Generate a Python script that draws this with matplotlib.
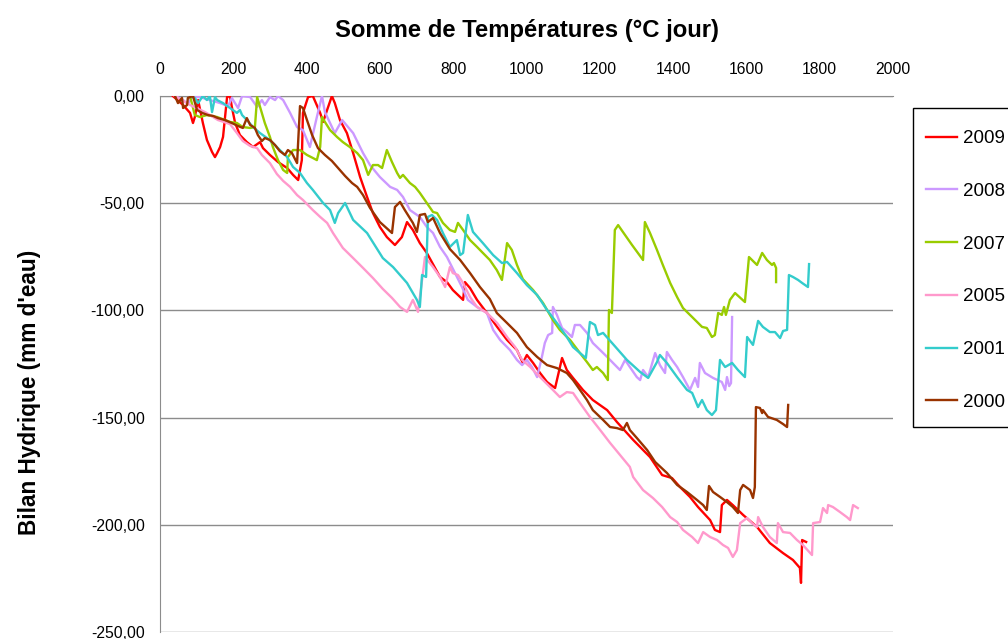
import matplotlib
matplotlib.use("Agg")
import matplotlib.pyplot as plt
from matplotlib.ticker import FuncFormatter
from matplotlib.patches import Rectangle

plt.rcParams['font.family'] = ['Liberation Sans', 'DejaVu Sans']

title = "Somme de Températures (°C jour)"
ylabel = "Bilan Hydrique (mm d'eau)"
years = ["2009", "2008", "2007", "2005", "2001", "2000"]
colors = ["#FF0000", "#CC99FF", "#99CC00", "#FF99CC", "#33CCCC", "#993300"]

s2009 = [(35,0),(63,-4.2),(82,-7.9),(90,-12.6),(95,-9.8),(104,-1.9),(117,-12.6),(128,-20.5),
         (142,-26.1),(150,-28.5),(156,-26.6),(164,-23.8),(172,-19.1),(183,-0.5),(191,0),(196,-5.1),
         (205,-12.6),(218,-18.2),(237,-21.5),(254,-23.8),(273,-21.5),(281,-24.3),(300,-27.5),
         (322,-30.8),(347,-33.6),(363,-36.8),(377,-39.2),(387,-29.9),(390,-7.9),(404,-0.5),(417,0),
         (437,-7.9),(445,-12.1),(456,-6.5),(469,0),(477,-3.3),(491,-11.2),(510,-17.3),(527,-26.6),
         (546,-37.8),(565,-47.1),(581,-54.6),(600,-61.1),(619,-65.8),(641,-69.5),(660,-65.8),
         (674,-58.8),(690,-62.5),(709,-68.6),(728,-73.2),(764,-84.4),(783,-86.8),(799,-90.5),
         (827,-95.1),(832,-86.8),(846,-89.6),(865,-95.1),(892,-101.2),(920,-107.7),(947,-113.8),
         (974,-118.5),(990,-124.5),(1001,-120.8),(1018,-124.5),(1037,-129.2),(1056,-133.4),
         (1078,-136.2),(1097,-122.2),(1110,-127.8),(1127,-131.5),(1154,-137.1),(1181,-141.8),
         (1220,-146.5),(1247,-152.1),(1291,-160.4),(1337,-168.4),(1370,-176.8),(1397,-178.2),
         (1419,-182.4),(1446,-187.0),(1468,-191.7),(1501,-197.8),(1514,-202.4),(1528,-203.4),
         (1533,-190.8),(1547,-188.4),(1563,-190.8),(1591,-195.4),(1629,-201.0),(1664,-208.5),
         (1700,-213.2),(1727,-216.4),(1746,-220.1),(1749,-227.1),(1752,-207.1),(1763,-208.0)]

s2008 = [(41,0),(63,-1.9),(76,-3.7),(87,-0.5),(109,-0.5),(136,-1.9),(164,-3.3),(186,-4.7),
         (196,-0.9),(213,-5.6),(224,0),(246,-0.5),(265,-5.1),(278,-1.9),(286,-4.2),(300,-0.5),
         (314,-1.9),(322,0),(336,-1.9),(355,-7.9),(374,-14.5),(390,-15.9),(401,-20.5),(409,-23.8),
         (428,-9.8),(442,0),(450,-7.5),(464,-12.6),(477,-17.3),(497,-11.2),(527,-17.3),(554,-26.6),
         (573,-32.2),(600,-37.8),(628,-42.4),(647,-43.8),(663,-47.1),(682,-53.2),(709,-56.4),
         (728,-61.1),(745,-63.9),(764,-70.4),(783,-75.1),(805,-82.6),(824,-89.1),(840,-95.1),
         (865,-98.4),(892,-101.2),(909,-109.1),(928,-113.8),(955,-118.5),(974,-123.1),(988,-125.5),
         (1001,-123.1),(1015,-126.4),(1029,-131.1),(1042,-121.7),(1050,-115.2),(1059,-111.5),
         (1070,-110.5),(1072,-98.4),(1083,-102.1),(1097,-108.2),(1110,-110.1),(1124,-112.4),
         (1132,-106.8),(1146,-106.8),(1165,-110.5),(1181,-115.2),(1201,-118.5),(1220,-121.7),
         (1236,-124.5),(1255,-127.8),(1269,-123.1),(1282,-126.4),(1301,-131.1),(1310,-132.5),
         (1318,-127.8),(1332,-131.1),(1351,-119.9),(1364,-125.5),(1378,-129.2),(1383,-119.4),
         (1397,-123.1),(1411,-126.4),(1427,-131.1),(1446,-137.1),(1460,-131.5),(1468,-135.7),
         (1473,-124.5),(1487,-129.2),(1509,-131.5),(1533,-133.4),(1542,-137.1),(1547,-131.1),
         (1553,-135.3),(1558,-133.9),(1561,-103.1)]

s2007 = [(82,0),(95,-8.9),(109,-9.8),(128,-8.9),(156,-9.8),(191,-12.1),(210,-12.6),(226,-14.5),
         (246,-14.9),(259,-14.5),(265,-0.5),(273,-5.1),(286,-12.6),(300,-19.1),(308,-23.8),
         (322,-29.9),(336,-34.5),(347,-35.9),(349,-28.5),(363,-25.2),(382,-25.2),(401,-27.5),
         (417,-28.9),(428,-29.9),(437,-23.8),(442,-9.8),(450,-12.1),(464,-15.9),(483,-19.1),
         (499,-21.5),(518,-23.8),(538,-26.6),(554,-29.9),(568,-36.8),(581,-32.2),(595,-32.2),
         (606,-33.6),(619,-25.2),(633,-30.8),(647,-35.9),(655,-38.2),(663,-36.8),(682,-40.6),
         (696,-42.4),(709,-45.2),(728,-49.9),(745,-54.1),(756,-54.6),(772,-59.2),(791,-62.5),
         (805,-63.4),(813,-59.2),(827,-62.5),(846,-67.2),(865,-70.4),(881,-73.2),(900,-76.5),
         (919,-81.2),(933,-85.8),(947,-68.6),(960,-71.8),(974,-78.8),(990,-85.4),(1018,-90.5),
         (1045,-96.5),(1072,-104.5),(1091,-109.1),(1119,-113.8),(1146,-119.9),(1165,-124.1),
         (1181,-127.8),(1192,-126.4),(1209,-129.2),(1222,-132.5),(1225,-99.8),(1233,-101.2),
         (1241,-62.5),(1250,-60.2),(1263,-63.4),(1288,-69.5),(1318,-76.5),(1323,-58.8),(1337,-63.9),
         (1356,-71.8),(1372,-78.8),(1392,-87.2),(1411,-93.8),(1427,-98.9),(1452,-103.1),
         (1479,-107.7),(1492,-108.2),(1506,-112.4),(1514,-111.5),(1523,-101.2),(1533,-102.1),
         (1539,-98.4),(1544,-102.1),(1555,-95.1),(1569,-91.9),(1596,-96.1),(1607,-75.1),
         (1629,-78.8),(1643,-73.2),(1656,-76.5),(1670,-78.8),(1675,-77.9),(1681,-80.2),(1681,-86.8)]

s2005 = [(41,0),(82,-4.2),(123,-7.5),(158,-11.2),(191,-13.1),(210,-17.3),(226,-21.0),(246,-23.3),
         (265,-24.3),(278,-27.5),(300,-31.3),(319,-36.4),(336,-39.6),(355,-42.4),(374,-46.2),
         (390,-48.5),(417,-53.2),(437,-56.4),(456,-59.2),(472,-63.9),(499,-70.9),(527,-75.6),
         (554,-80.2),(581,-84.9),(608,-90.0),(633,-94.2),(655,-98.4),(674,-100.7),(690,-95.1),
         (704,-100.7),(723,-75.1),(745,-79.8),(764,-84.4),(778,-89.1),(791,-79.8),(799,-82.6),
         (813,-83.5),(827,-87.2),(846,-93.8),(865,-98.4),(892,-101.2),(920,-105.9),(947,-112.4),
         (969,-117.1),(988,-123.1),(1010,-126.4),(1037,-131.1),(1064,-135.7),(1091,-140.4),
         (1110,-138.1),(1127,-138.5),(1146,-143.2),(1173,-149.7),(1201,-155.8),(1228,-161.8),
         (1255,-167.4),(1282,-173.0),(1291,-177.7),(1318,-183.8),(1345,-187.5),(1370,-191.7),
         (1392,-196.4),(1411,-198.7),(1427,-202.4),(1452,-205.7),(1468,-208.5),(1482,-203.4),
         (1501,-205.7),(1520,-207.1),(1536,-209.4),(1550,-210.8),(1563,-215.0),(1574,-211.8),
         (1583,-199.2),(1602,-196.8),(1615,-199.2),(1629,-201.0),(1632,-196.4),(1645,-201.0),
         (1664,-205.7),(1683,-208.5),(1686,-199.2),(1700,-203.4),(1719,-203.8),(1738,-207.1),
         (1754,-209.4),(1779,-214.1),(1782,-199.2),(1801,-198.7),(1809,-192.2),(1820,-194.5),
         (1823,-190.8),(1836,-191.7),(1855,-194.0),(1874,-196.4),(1883,-197.8),(1891,-190.8),
         (1904,-192.2)]

s2001 = [(82,0),(95,-0.9),(104,-3.3),(117,0),(128,-1.9),(136,0),(142,-7.5),(150,-0.5),(156,-1.9),
         (172,-3.3),(191,-5.6),(210,-7.9),(218,-6.5),(224,-8.9),(237,-11.2),(254,-14.5),(273,-17.3),
         (292,-19.6),(308,-21.9),(327,-25.2),(347,-28.5),(363,-33.1),(382,-35.9),(401,-40.6),
         (417,-43.8),(445,-49.9),(464,-53.2),(477,-59.2),(486,-54.6),(505,-49.9),(527,-57.8),
         (565,-63.9),(608,-75.6),(636,-79.8),(674,-87.2),(701,-95.1),(709,-98.4),(715,-83.5),
         (726,-84.4),(731,-56.4),(742,-55.5),(756,-57.8),(772,-63.9),(791,-70.4),(810,-67.2),
         (819,-74.2),(827,-73.2),(840,-55.5),(854,-63.4),(881,-68.6),(909,-74.2),(933,-77.9),
         (947,-77.4),(974,-82.6),(1001,-88.2),(1029,-92.8),(1056,-99.8),(1083,-105.9),(1110,-112.4),
         (1127,-117.1),(1146,-119.9),(1162,-122.2),(1173,-105.4),(1187,-106.8),(1195,-111.5),
         (1209,-110.5),(1236,-115.7),(1274,-123.1),(1310,-128.7),(1332,-131.5),(1356,-124.1),
         (1364,-120.8),(1383,-124.5),(1411,-131.1),(1438,-137.1),(1452,-138.5),(1468,-145.1),
         (1479,-141.8),(1492,-146.5),(1506,-148.8),(1517,-146.5),(1528,-123.1),(1542,-126.4),
         (1561,-124.5),(1577,-127.8),(1596,-131.1),(1602,-112.4),(1618,-116.1),(1632,-104.9),
         (1645,-107.7),(1664,-110.1),(1678,-110.1),(1692,-112.9),(1700,-109.6),(1711,-109.1),
         (1716,-83.5),(1727,-84.4),(1741,-85.8),(1752,-87.2),(1768,-89.1),(1771,-78.4)]

s2000 = [(41,0),(49,-3.3),(60,-0.9),(63,-5.6),(74,-4.2),(76,-0.9),(90,0),(101,-6.5),(115,-7.9),
         (131,-8.9),(145,-9.3),(158,-10.3),(177,-11.2),(196,-12.6),(213,-14.0),(226,-14.9),
         (237,-10.3),(246,-13.5),(259,-14.9),(267,-18.2),(278,-21.0),(286,-19.6),(300,-20.5),
         (314,-22.9),(327,-25.7),(341,-27.5),(349,-25.2),(360,-26.6),(374,-31.3),(382,-4.7),
         (390,-5.6),(401,-11.2),(415,-18.2),(431,-24.3),(450,-27.5),(469,-30.3),(486,-33.6),
         (505,-37.3),(524,-40.6),(538,-42.4),(554,-46.2),(573,-52.2),(600,-58.8),(633,-63.9),
         (641,-51.8),(655,-49.4),(668,-53.2),(690,-59.2),(701,-63.4),(709,-55.5),(723,-55.0),
         (731,-58.8),(745,-56.9),(764,-63.9),(791,-71.4),(819,-76.5),(846,-82.6),(873,-89.1),
         (900,-94.7),(919,-101.2),(947,-105.9),(974,-110.5),(1001,-117.1),(1029,-121.7),
         (1056,-125.5),(1083,-126.9),(1110,-129.2),(1127,-132.5),(1146,-137.1),(1165,-141.8),
         (1181,-146.5),(1209,-151.1),(1228,-154.4),(1247,-154.9),(1263,-155.8),(1274,-152.5),
         (1282,-155.8),(1301,-159.5),(1329,-165.1),(1351,-170.7),(1383,-175.8),(1411,-181.4),
         (1438,-184.7),(1465,-188.4),(1482,-190.8),(1492,-193.1),(1498,-181.9),(1509,-184.7),
         (1528,-187.0),(1547,-189.4),(1563,-191.7),(1577,-194.5),(1583,-183.8),(1591,-181.4),
         (1610,-183.8),(1618,-187.5),(1623,-182.4),(1626,-145.1),(1637,-145.5),(1643,-147.9),
         (1645,-146.5),(1659,-149.7),(1683,-151.1),(1700,-153.0),(1711,-154.4),(1714,-144.1)]

series = [s2009, s2008, s2007, s2005, s2001, s2000]

x_ticks = list(range(0, 2001, 200))
y_ticks = list(range(-250, 1, 50))

W, H = 1008, 639
fig = plt.figure(figsize=(W / 100, H / 100), dpi=100)
ax = fig.add_axes([160/W, 1-632/H, 733/W, 536/H])

grid_c = "#8C8C8C"
for i, (data, c, lab) in enumerate(zip(series, colors, years)):
    xs = [p[0] for p in data]
    ys = [p[1] for p in data]
    ax.plot(xs, ys, color=c, lw=1.7, label=lab, zorder=3 + i, solid_joinstyle='round')

ax.set_xlim(0, 2000)
ax.set_ylim(-250, 0)
ax.set_xticks(x_ticks)
ax.set_yticks(y_ticks)
ax.yaxis.set_major_formatter(FuncFormatter(lambda v, p: f"{v:.2f}".replace(".", ",").replace("-0,00", "0,00")))
ax.xaxis.tick_top()
ax.tick_params(axis='x', length=0, pad=14, labelsize=11.3)
ax.tick_params(axis='y', length=0, pad=11, labelsize=11.3)
for v in y_ticks:
    ax.axhline(v, color=grid_c, lw=1.0, zorder=1)
ax.spines['right'].set_visible(False)
ax.spines['bottom'].set_visible(False)
ax.spines['left'].set_color(grid_c)
ax.spines['top'].set_color(grid_c)

fig.text(527/W, 1-31/H, title, ha='center', va='center', fontsize=17.2, fontweight='bold')
fig.text(30/W, 1-392/H, ylabel, ha='center', va='center', rotation=90, fontsize=16.3, fontweight='bold')

# legend box (extends past the right edge of the figure, as in the reference)
fig.patches.append(Rectangle((913/W, 1-427/H), 120/W, 319/H, transform=fig.transFigure,
                             facecolor='white', edgecolor='black', lw=1.0, zorder=10))
handles, labels = ax.get_legend_handles_labels()
leg = fig.legend(handles, labels, loc='upper left', bbox_to_anchor=(926/W, 1-130/H), frameon=False,
                 fontsize=13.5, handlelength=1.65, handletextpad=0.3, labelspacing=1.9,
                 borderpad=0, borderaxespad=0)
leg.set_zorder(11)

fig.savefig("out.png", dpi=100)
